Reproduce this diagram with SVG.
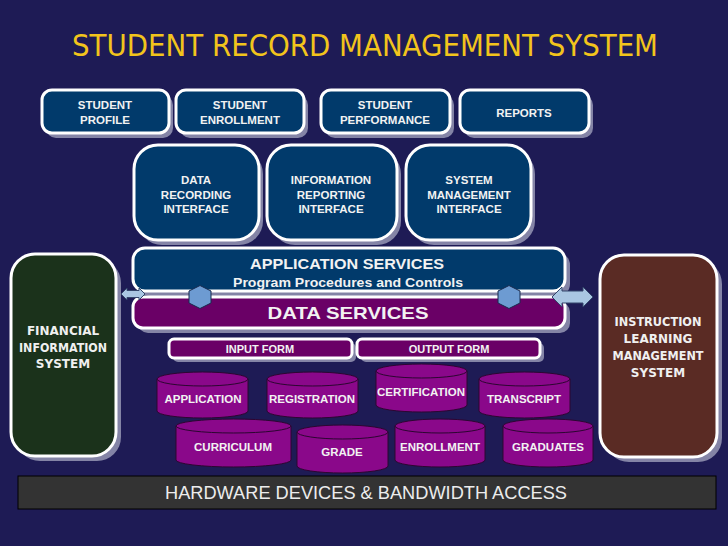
<svg xmlns="http://www.w3.org/2000/svg" width="728" height="546" viewBox="0 0 728 546">
<defs>
<style>
.sh{fill:#8484a6}
.bx{stroke:#ffffff;stroke-width:3}
.blue{fill:#013a6b}
.purp{fill:#6a0066}
.t{font-family:"Liberation Sans",Arial,sans-serif;font-weight:bold;fill:#f2f2f2;text-anchor:middle}
.ts{font-family:"DejaVu Sans",Verdana,sans-serif;font-weight:bold;fill:#f0f0f0;text-anchor:middle;font-size:12px}
.cyl{fill:#8a088a;stroke:#2c0630;stroke-width:1}
.hex{fill:#6d9bd2;stroke:#182a4e;stroke-width:1}
.arr{fill:#a9c6e2;stroke:#33456a;stroke-width:1}
</style>
</defs>
<rect width="728" height="546" fill="#1e1b55"/>
<text x="365" y="56" font-family="DejaVu Sans Condensed,DejaVu Sans,sans-serif" font-stretch="condensed" font-size="31" fill="#f2c41c" text-anchor="middle" textLength="586" lengthAdjust="spacingAndGlyphs">STUDENT RECORD MANAGEMENT SYSTEM</text>

<g id="student-profile">
<rect class="sh" x="46" y="95" width="127" height="43" rx="10"/>
<rect class="bx blue" x="42" y="90" width="127" height="43" rx="10"/>
<text class="t" font-size="11.5"><tspan x="105" y="109">STUDENT</tspan><tspan x="105" y="124">PROFILE</tspan></text>
</g>
<g id="student-enrollment">
<rect class="sh" x="180" y="95" width="128" height="43" rx="10"/>
<rect class="bx blue" x="176" y="90" width="128" height="43" rx="10"/>
<text class="t" font-size="11.5"><tspan x="240" y="109">STUDENT</tspan><tspan x="240" y="124">ENROLLMENT</tspan></text>
</g>
<g id="student-performance">
<rect class="sh" x="325" y="95" width="129" height="43" rx="10"/>
<rect class="bx blue" x="321" y="90" width="129" height="43" rx="10"/>
<text class="t" font-size="11.5"><tspan x="385" y="109">STUDENT</tspan><tspan x="385" y="124">PERFORMANCE</tspan></text>
</g>
<g id="reports">
<rect class="sh" x="464" y="95" width="129" height="43" rx="10"/>
<rect class="bx blue" x="460" y="90" width="129" height="43" rx="10"/>
<text class="t" font-size="11.5" x="524" y="117">REPORTS</text>
</g>

<g id="data-recording-interface">
<rect class="sh" x="138" y="150" width="125" height="95" rx="24"/>
<rect class="bx blue" x="134" y="145" width="125" height="95" rx="24"/>
<text class="t" font-size="11.5"><tspan x="196" y="184">DATA</tspan><tspan x="196" y="199">RECORDING</tspan><tspan x="196" y="213">INTERFACE</tspan></text>
</g>
<g id="information-reporting-interface">
<rect class="sh" x="271" y="150" width="130" height="95" rx="24"/>
<rect class="bx blue" x="267" y="145" width="130" height="95" rx="24"/>
<text class="t" font-size="11.5"><tspan x="331" y="184">INFORMATION</tspan><tspan x="331" y="199">REPORTING</tspan><tspan x="331" y="213">INTERFACE</tspan></text>
</g>
<g id="system-management-interface">
<rect class="sh" x="410" y="150" width="125" height="95" rx="24"/>
<rect class="bx blue" x="406" y="145" width="125" height="95" rx="24"/>
<text class="t" font-size="11.5"><tspan x="469" y="184">SYSTEM</tspan><tspan x="469" y="199">MANAGEMENT</tspan><tspan x="469" y="213">INTERFACE</tspan></text>
</g>

<g id="financial-information-system">
<rect class="sh" x="16" y="259" width="105" height="202" rx="24"/>
<rect class="bx" fill="#1b321b" x="11" y="254" width="105" height="202" rx="24"/>
<text class="ts"><tspan x="63" y="335">FINANCIAL</tspan><tspan x="63" y="352" textLength="88" lengthAdjust="spacingAndGlyphs">INFORMATION</tspan><tspan x="63" y="368">SYSTEM</tspan></text>
</g>
<g id="instruction-learning-management-system">
<rect class="sh" x="605" y="260" width="117" height="202" rx="24"/>
<rect class="bx" fill="#5a2b24" x="600" y="255" width="117" height="202" rx="24"/>
<text class="ts"><tspan x="658" y="326" textLength="87" lengthAdjust="spacingAndGlyphs">INSTRUCTION</tspan><tspan x="658" y="343">LEARNING</tspan><tspan x="658" y="360" textLength="91" lengthAdjust="spacingAndGlyphs">MANAGEMENT</tspan><tspan x="658" y="377">SYSTEM</tspan></text>
</g>

<g id="application-services">
<rect class="sh" x="138" y="253" width="432" height="43" rx="12"/>
<rect class="bx blue" x="133" y="248" width="432" height="43" rx="12"/>
<text class="t" font-size="14.5" x="347" y="269" textLength="194" lengthAdjust="spacingAndGlyphs">APPLICATION SERVICES</text>
<text class="t" font-size="12.5" x="348" y="287" textLength="230" lengthAdjust="spacingAndGlyphs">Program Procedures and Controls</text>
</g>
<g id="data-services">
<rect class="sh" x="138" y="302" width="432" height="31" rx="10"/>
<rect class="bx purp" x="133" y="297" width="432" height="31" rx="10"/>
<text class="t" font-size="17" x="348" y="319" textLength="161" lengthAdjust="spacingAndGlyphs">DATA SERVICES</text>
</g>
<g id="input-form">
<rect class="sh" x="173" y="343" width="183" height="19" rx="5"/>
<rect class="bx purp" x="169" y="339" width="183" height="19" rx="5"/>
<text class="t" font-size="11" x="260" y="352.5">INPUT FORM</text>
</g>
<g id="output-form">
<rect class="sh" x="361" y="343" width="183" height="19" rx="5"/>
<rect class="bx purp" x="357" y="339" width="183" height="19" rx="5"/>
<text class="t" font-size="11" x="449" y="352.5">OUTPUT FORM</text>
</g>

<g id="db-application">
<path class="cyl" d="M157,379 V411 A45.5,7 0 0 0 248,411 V379"/>
<ellipse class="cyl" cx="202.5" cy="379" rx="45.5" ry="7"/>
<text class="t" font-size="11.5" x="203" y="403">APPLICATION</text>
</g>
<g id="db-registration">
<path class="cyl" d="M267,379 V411 A45.5,7 0 0 0 358,411 V379"/>
<ellipse class="cyl" cx="312.5" cy="379" rx="45.5" ry="7"/>
<text class="t" font-size="11.5" x="312" y="403">REGISTRATION</text>
</g>
<g id="db-certification">
<path class="cyl" d="M376,371 V405 A45.5,7 0 0 0 467,405 V371"/>
<ellipse class="cyl" cx="421.5" cy="371" rx="45.5" ry="7"/>
<text class="t" font-size="11.5" x="421" y="396">CERTIFICATION</text>
</g>
<g id="db-transcript">
<path class="cyl" d="M479,379 V411 A45.5,7 0 0 0 570,411 V379"/>
<ellipse class="cyl" cx="524.5" cy="379" rx="45.5" ry="7"/>
<text class="t" font-size="11.5" x="524" y="403">TRANSCRIPT</text>
</g>
<g id="db-curriculum">
<path class="cyl" d="M176,426 V460 A57.5,7 0 0 0 291,460 V426"/>
<ellipse class="cyl" cx="233.5" cy="426" rx="57.5" ry="7"/>
<text class="t" font-size="11.5" x="233" y="451">CURRICULUM</text>
</g>
<g id="db-grade">
<path class="cyl" d="M297,432 V466 A45.5,7 0 0 0 388,466 V432"/>
<ellipse class="cyl" cx="342.5" cy="432" rx="45.5" ry="7"/>
<text class="t" font-size="11.5" x="342" y="456">GRADE</text>
</g>
<g id="db-enrollment">
<path class="cyl" d="M395,426 V460 A45,7 0 0 0 485,460 V426"/>
<ellipse class="cyl" cx="440" cy="426" rx="45" ry="7"/>
<text class="t" font-size="11.5" x="440" y="451">ENROLLMENT</text>
</g>
<g id="db-graduates">
<path class="cyl" d="M503,426 V460 A45,7 0 0 0 593,460 V426"/>
<ellipse class="cyl" cx="548" cy="426" rx="45" ry="7"/>
<text class="t" font-size="11.5" x="548" y="451">GRADUATES</text>
</g>

<g id="hardware">
<rect x="18" y="476" width="698" height="33" fill="#333333" stroke="#000000" stroke-width="1"/>
<text x="366" y="499" font-family="Liberation Sans,Arial,sans-serif" font-size="17.5" fill="#ececec" text-anchor="middle" textLength="402" lengthAdjust="spacingAndGlyphs">HARDWARE DEVICES &amp; BANDWIDTH ACCESS</text>
</g>

<g id="connectors">
<path class="arr" d="M121,294 L127,288 L127,290.5 L139,290.5 L139,288 L145,294 L139,300 L139,297.5 L127,297.5 L127,300 Z"/>
<path class="arr" d="M552,297 L562,287 L562,291 L583,291 L583,287 L593,297 L583,307 L583,303 L562,303 L562,307 Z"/>
<polygon class="hex" points="200,285.5 211,291 211,303 200,308.5 189,303 189,291"/>
<polygon class="hex" points="509,285.5 520,291 520,303 509,308.5 498,303 498,291"/>
</g>
</svg>
